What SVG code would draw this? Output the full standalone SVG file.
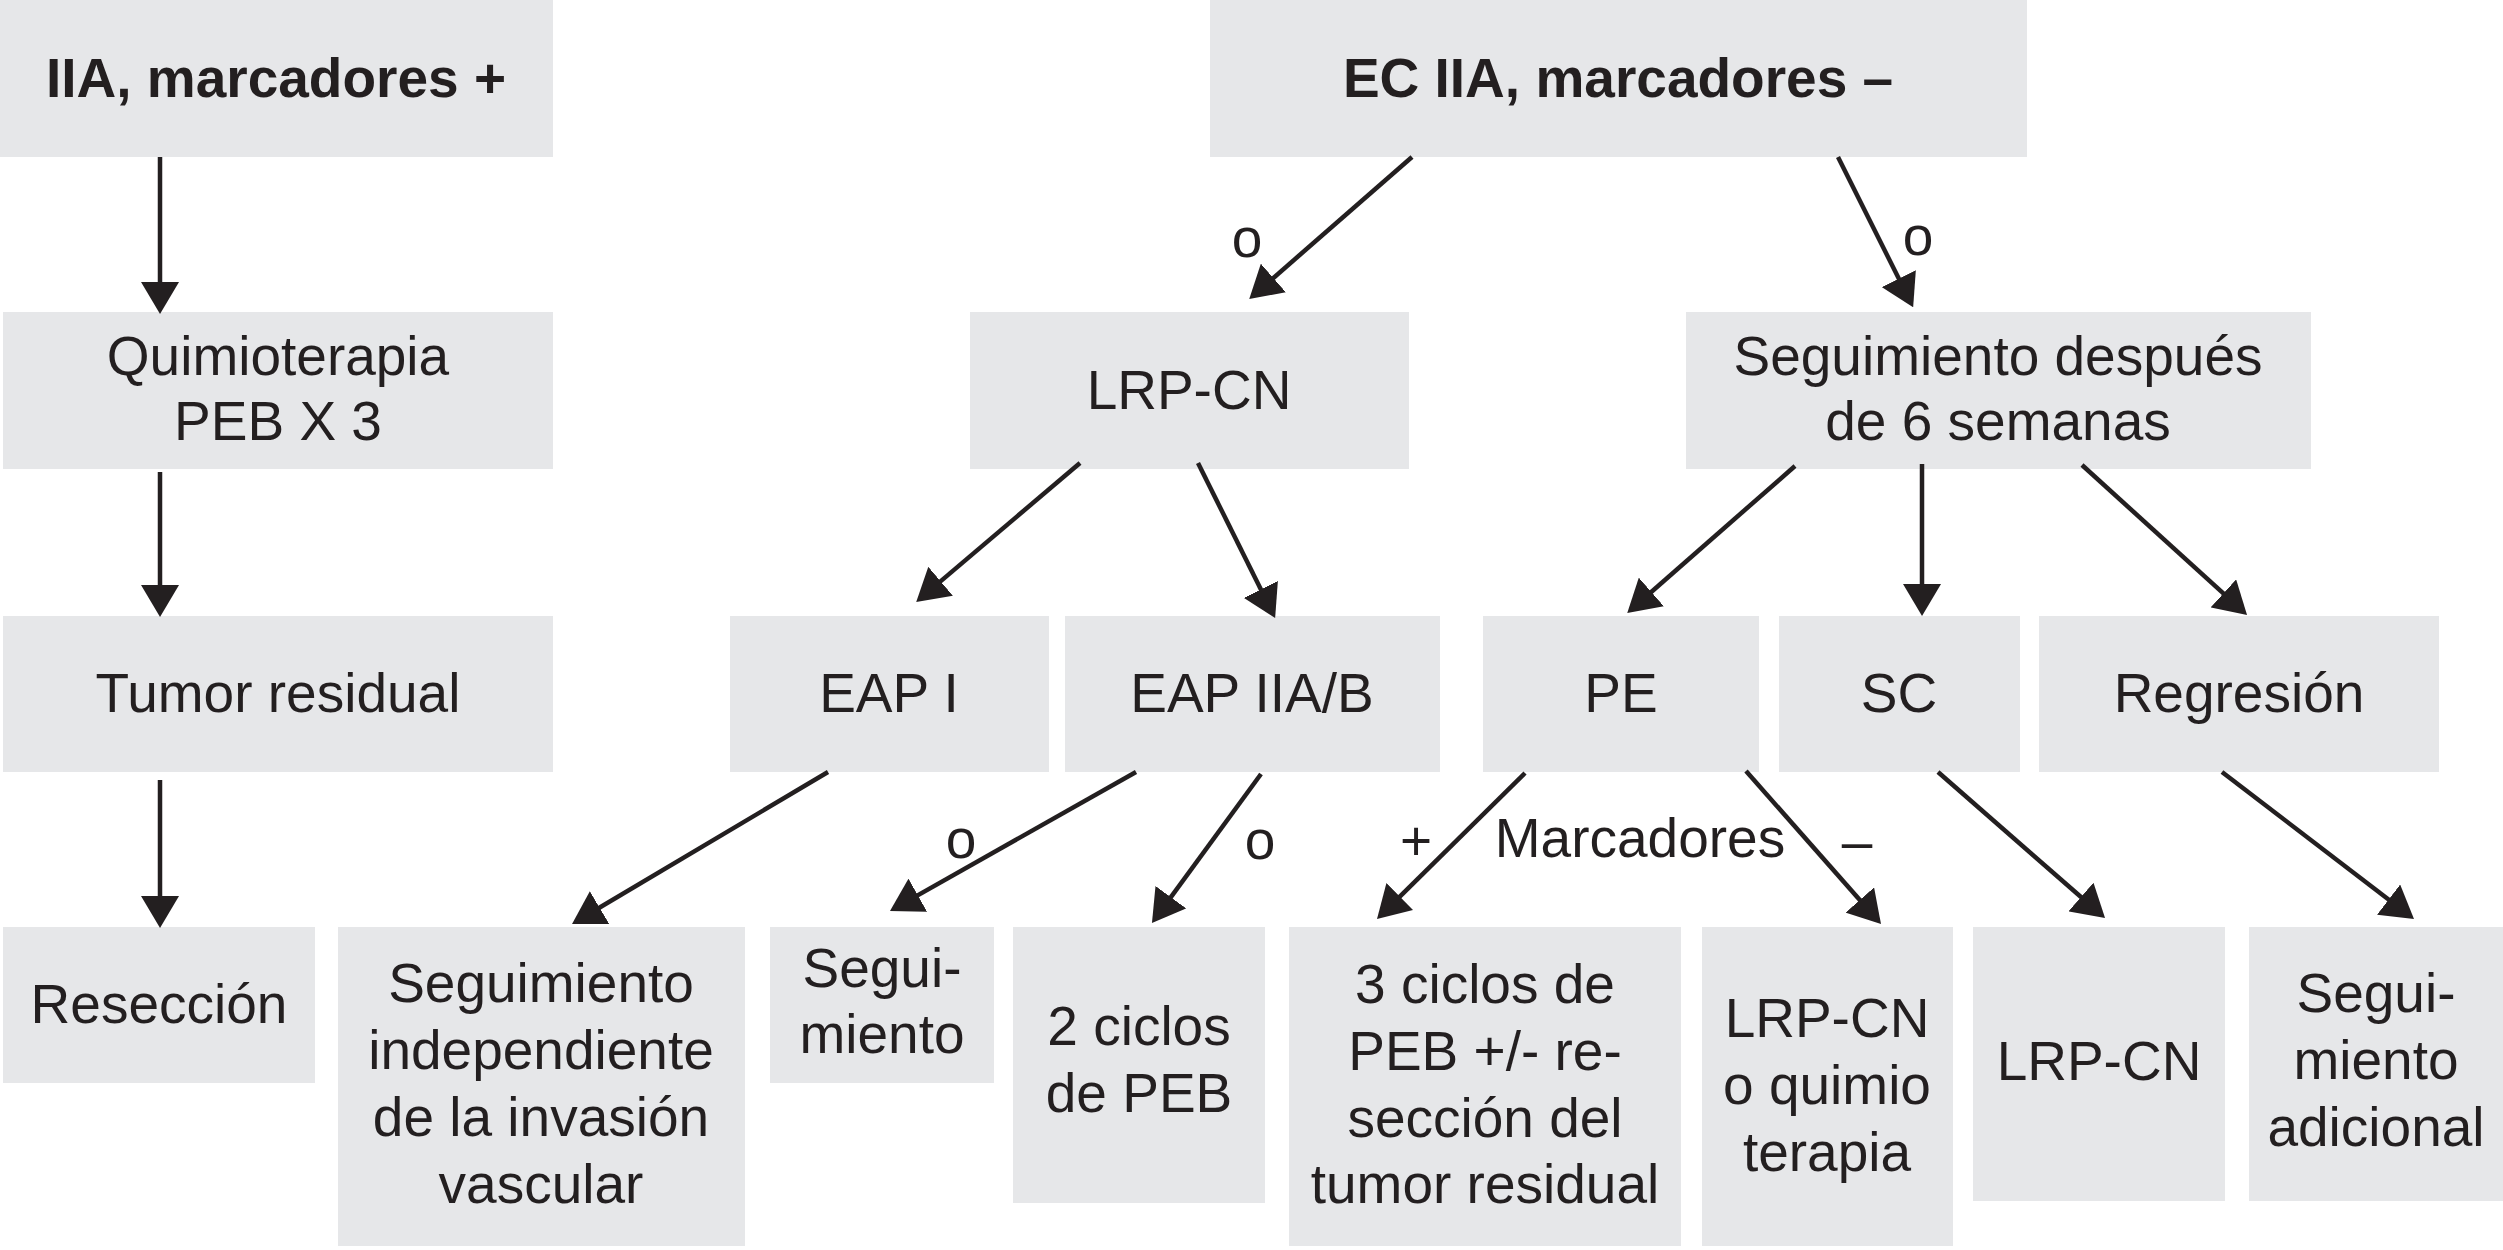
<svg xmlns="http://www.w3.org/2000/svg" width="2503" height="1250" viewBox="0 0 2503 1250">
<style>
.b{fill:#e6e7e9}
text{font-family:"Liberation Sans",Arial,sans-serif;font-size:55px;fill:#231f20;text-anchor:middle}
.bold{font-weight:bold}
.c line{stroke:#231f20;stroke-width:4.5;marker-end:url(#ah)}
</style>
<defs>
<marker id="ah" markerUnits="userSpaceOnUse" markerWidth="32" markerHeight="38" viewBox="0 0 32 38" refX="16" refY="19" orient="auto">
<path d="M0,0 L32,19 L0,38 z" fill="#231f20"/>
</marker>
</defs>
<rect width="2503" height="1250" fill="#fff"/>
<g id="n1"><rect class="b" x="0" y="0" width="553" height="157"/><text class="bold" x="276" y="97">IIA, marcadores +</text></g>
<g id="n2"><rect class="b" x="1210" y="0" width="817" height="157"/><text class="bold" x="1618" y="97">EC IIA, marcadores –</text></g>
<g id="n3"><rect class="b" x="3" y="312" width="550" height="157"/><text x="278" y="375">Quimioterapia</text><text x="278" y="440">PEB X 3</text></g>
<g id="n4"><rect class="b" x="970" y="312" width="439" height="157"/><text x="1189" y="409">LRP-CN</text></g>
<g id="n5"><rect class="b" x="1686" y="312" width="625" height="157"/><text x="1998" y="375">Seguimiento después</text><text x="1998" y="440">de 6 semanas</text></g>
<g id="n6"><rect class="b" x="3" y="616" width="550" height="156"/><text x="278" y="712">Tumor residual</text></g>
<g id="n7"><rect class="b" x="730" y="616" width="319" height="156"/><text x="889" y="712">EAP I</text></g>
<g id="n8"><rect class="b" x="1065" y="616" width="375" height="156"/><text x="1252" y="712">EAP IIA/B</text></g>
<g id="n9"><rect class="b" x="1483" y="616" width="276" height="156"/><text x="1621" y="712">PE</text></g>
<g id="n10"><rect class="b" x="1779" y="616" width="241" height="156"/><text x="1899" y="712">SC</text></g>
<g id="n11"><rect class="b" x="2039" y="616" width="400" height="156"/><text x="2239" y="712">Regresión</text></g>
<g id="n12"><rect class="b" x="3" y="927" width="312" height="156"/><text x="159" y="1023">Resección</text></g>
<g id="n13"><rect class="b" x="338" y="927" width="407" height="319"/><text x="541" y="1002">Seguimiento</text><text x="541" y="1069">independiente</text><text x="541" y="1136">de la invasión</text><text x="541" y="1203">vascular</text></g>
<g id="n14"><rect class="b" x="770" y="927" width="224" height="156"/><text x="882" y="987">Segui-</text><text x="882" y="1053">miento</text></g>
<g id="n15"><rect class="b" x="1013" y="927" width="252" height="276"/><text x="1139" y="1045">2 ciclos</text><text x="1139" y="1112">de PEB</text></g>
<g id="n16"><rect class="b" x="1289" y="927" width="392" height="319"/><text x="1485" y="1003">3 ciclos de</text><text x="1485" y="1070">PEB +/- re-</text><text x="1485" y="1137">sección del</text><text x="1485" y="1203">tumor residual</text></g>
<g id="n17"><rect class="b" x="1702" y="927" width="251" height="319"/><text x="1827" y="1037">LRP-CN</text><text x="1827" y="1104">o quimio</text><text x="1827" y="1171">terapia</text></g>
<g id="n18"><rect class="b" x="1973" y="927" width="252" height="274"/><text x="2099" y="1080">LRP-CN</text></g>
<g id="n19"><rect class="b" x="2249" y="927" width="254" height="274"/><text x="2376" y="1012">Segui-</text><text x="2376" y="1079">miento</text><text x="2376" y="1146">adicional</text></g>
<g id="connectors" class="c">
<line x1="160" y1="157" x2="160" y2="298"/>
<line x1="160" y1="472" x2="160" y2="601"/>
<line x1="160" y1="780" x2="160" y2="912"/>
<line x1="1412" y1="157" x2="1261.3" y2="288.5"/>
<line x1="1838" y1="157" x2="1906" y2="293"/>
<line x1="1080" y1="463" x2="928.4" y2="591.6"/>
<line x1="1198" y1="463" x2="1268" y2="603.7"/>
<line x1="1795" y1="466" x2="1639.3" y2="602.5"/>
<line x1="1922" y1="464" x2="1922" y2="600"/>
<line x1="2082" y1="465" x2="2235.2" y2="604.2"/>
<line x1="828" y1="772" x2="585.8" y2="915.8"/>
<line x1="1136" y1="772" x2="903.9" y2="903.1"/>
<line x1="1261" y1="774" x2="1161.4" y2="910.1"/>
<line x1="1525" y1="773" x2="1388.4" y2="907.8"/>
<line x1="1746" y1="771" x2="1870.4" y2="912"/>
<line x1="1938" y1="772" x2="2093" y2="907.5"/>
<line x1="2222" y1="772" x2="2401.3" y2="909.3"/>
</g>
<g id="labels">
<text x="1247" y="257">o</text>
<text x="1918" y="255">o</text>
<text x="961" y="858">o</text>
<text x="1260" y="859">o</text>
<text x="1416" y="860">+</text>
<text x="1640" y="857">Marcadores</text>
<text x="1857" y="860">–</text>
</g>
</svg>
